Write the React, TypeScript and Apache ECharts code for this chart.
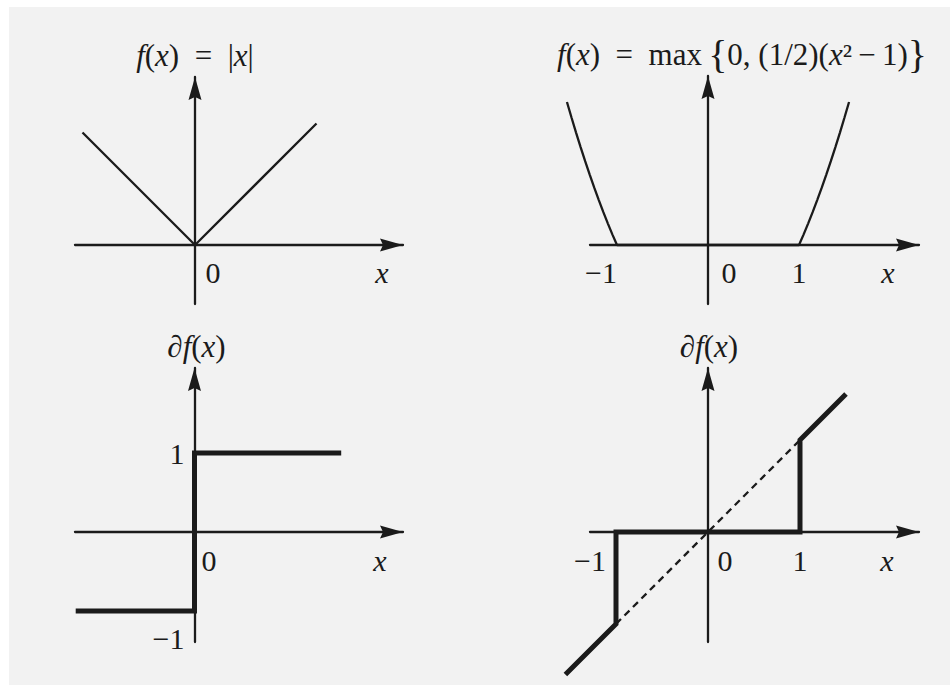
import React, { useEffect, useRef } from 'react';
import * as echarts from 'echarts';

const INK = '#1b1b1b';
const SERIF = '"Liberation Serif", "Times New Roman", "DejaVu Serif", serif';
const FS = 30;
const TS = 31;

// f(x) = |x|
const absX = [-1.25, 0, 1.35];
const absY = [1.25, 0, 1.35];

// f(x) = max{0, (1/2)(x^2 - 1)}
const hingeX = [-1.55, -1.5, -1.45, -1.4, -1.35, -1.3, -1.25, -1.2, -1.15, -1.1, -1.05, -1, 1, 1.05, 1.1, 1.15, 1.2, 1.25, 1.3, 1.35, 1.4, 1.45, 1.5, 1.55];
const hingeY = [0.701, 0.625, 0.551, 0.48, 0.411, 0.345, 0.281, 0.22, 0.161, 0.105, 0.051, 0, 0, 0.051, 0.105, 0.161, 0.22, 0.281, 0.345, 0.411, 0.48, 0.551, 0.625, 0.701];

// subdifferential of |x|
const signX = [-1.32, 0, 0, 1.63];
const signY = [-1, -1, 1, 1];

// subdifferential of the hinge function
const subX = [-1.55, -1, -1, 1, 1, 1.5];
const subY = [-1.55, -1, 0, 0, 1, 1.5];

// y = x guide
const diagX = [-1, 1];
const diagY = [-1, 1];

// tick labels
const absTicksX = [0];
const hingeTicksX = [-1, 0, 1];
const signTicksX = [0];
const signTicksY = [1, -1];
const subTicksX = [-1, 0, 1];

// pixel frame of each panel: origin, unit lengths, axis extents
const frames = [
  { ox: 195, oy: 245, ux: 90, uy: 90, left: 75, right: 403, top: 77, bottom: 304 },
  { ox: 708, oy: 245, ux: 91, uy: 204, left: 590, right: 919, top: 76, bottom: 304 },
  { ox: 194.5, oy: 532, ux: 90, uy: 79, left: 75, right: 403, top: 368, bottom: 642 },
  { ox: 708, oy: 532, ux: 92, uy: 92, left: 590, right: 919, top: 368, bottom: 642 },
];
// wider plotting areas (same scale) for curves that run past the axis ends
const plotFrames = [
  { ...frames[1], left: 540, top: 40 },
  { ...frames[3], left: 540, bottom: 684 },
];

const txt = { fontFamily: SERIF, fontSize: FS, color: INK };
const ital = { ...txt, fontStyle: 'italic' };

const ARROW = 'path://M6.5,0 L13,23 L6.5,20 L0,23 Z';
const ARROW_SIZE = [13, 23];

const zip = (xs: number[], ys: number[]) => xs.map((x, i) => [x, ys[i]]);

const tickText = (v: number) => (v === 0 ? '{z|0}' : v < 0 ? '{m|−1}' : '{o|1}');

type Frame = (typeof frames)[number];

const xRange = (f: Frame) => ({ min: (f.left - f.ox) / f.ux, max: (f.right - f.ox) / f.ux });
const yRange = (f: Frame) => ({ min: -(f.bottom - f.oy) / f.uy, max: (f.oy - f.top) / f.uy });

function axisLineStyle() {
  return {
    onZero: false,
    symbol: ['none', ARROW],
    symbolSize: ARROW_SIZE,
    symbolOffset: [0, -ARROW_SIZE[1] / 2],
    lineStyle: { color: INK, width: 2.3 },
  };
}

function xAxis(i: number, ticks: number[], rich: any, nameGap: number, drop: number) {
  const f = frames[i];
  return {
    type: 'value',
    gridIndex: i,
    position: 'bottom',
    offset: -(f.bottom - f.oy),
    ...xRange(f),
    axisLine: axisLineStyle(),
    axisTick: { show: false },
    splitLine: { show: false },
    axisLabel: {
      show: ticks.length > 0,
      customValues: ticks,
      formatter: tickText,
      margin: drop,
      verticalAlign: 'middle',
      ...txt,
      rich,
    },
    name: '{i|x}',
    nameLocation: 'end',
    nameGap,
    nameTextStyle: {
      ...txt,
      align: 'center',
      verticalAlign: 'middle',
      padding: [drop * 2, 0, 0, 0],
      rich: { i: ital },
    },
  };
}

function yAxis(i: number, ticks: number[], rich: any, title: string, shift: number, base: any) {
  const f = frames[i];
  return {
    type: 'value',
    gridIndex: i,
    position: 'left',
    offset: -(f.ox - f.left),
    ...yRange(f),
    axisLine: axisLineStyle(),
    axisTick: { show: false },
    splitLine: { show: false },
    axisLabel: {
      show: ticks.length > 0,
      customValues: ticks,
      formatter: tickText,
      margin: 10,
      ...txt,
      rich,
    },
    name: title,
    nameLocation: 'end',
    nameGap: 22,
    nameTextStyle: {
      ...base,
      align: 'center',
      verticalAlign: 'middle',
      padding: [0, 0, 0, shift * 2],
      rich: titleRich,
    },
  };
}

const n = { ...txt, fontSize: TS };
const titleRich = { i: { ...ital, fontSize: TS }, n };

const hidden = {
  axisLine: { show: false },
  axisTick: { show: false },
  axisLabel: { show: false },
  splitLine: { show: false },
};

const thin = { color: INK, width: 2.3 };
const thick = { color: INK, width: 5, cap: 'butt', join: 'miter' };

const lineSeries = (ax: number, xs: number[], ys: number[], lineStyle: any) => ({
  type: 'line',
  xAxisIndex: ax,
  yAxisIndex: ax,
  data: zip(xs, ys),
  showSymbol: false,
  symbol: 'none',
  silent: true,
  clip: false,
  lineStyle,
});

const option = {
  animation: false,
  backgroundColor: '#ffffff',
  graphic: [
    {
      type: 'rect',
      z: -100,
      silent: true,
      shape: { x: 9, y: 7, width: 941, height: 678 },
      style: { fill: '#f2f2f2' },
    },
  ],
  grid: [...frames, ...plotFrames].map((f) => ({
    left: f.left,
    top: f.top,
    width: f.right - f.left,
    height: f.bottom - f.top,
    containLabel: false,
  })),
  xAxis: [
    xAxis(0, absTicksX, { z: { ...txt, padding: [0, 0, 0, 36] } }, -21, 27),
    xAxis(1, hingeTicksX, { z: { ...txt, padding: [0, 0, 0, 42] }, m: { ...txt, padding: [0, 32, 0, 0] }, o: txt }, -31, 27),
    xAxis(2, signTicksX, { z: { ...txt, padding: [0, 0, 0, 29] } }, -23, 28),
    xAxis(3, subTicksX, { z: { ...txt, padding: [0, 0, 0, 34] }, m: { ...txt, padding: [0, 52, 0, 0] }, o: txt }, -32, 28),
    ...plotFrames.map((f, k) => ({ type: 'value', gridIndex: 4 + k, ...xRange(f), ...hidden })),
  ],
  yAxis: [
    yAxis(0, [], {}, '{i|f}{n|(}{i|x}{n|)\u2002=\u2002|}{i|x}{n||}', 0, n),
    yAxis(
      1,
      [],
      {},
      '{i|f}{n|(}{i|x}{n|)\u2002=\u2002max\u2009}{{n|0, (1/2)(}{i|x}{n|²\u2009−\u20091)}}',
      34,
      { ...txt, fontSize: 40 }
    ),
    yAxis(2, signTicksY, { o: txt, m: { ...txt, padding: [54, 0, 0, 0] } }, '{n|∂}{i|f}{n|(}{i|x}{n|)}', 2, n),
    yAxis(3, [], {}, '{n|∂}{i|f}{n|(}{i|x}{n|)}', 1, n),
    ...plotFrames.map((f, k) => ({ type: 'value', gridIndex: 4 + k, ...yRange(f), ...hidden })),
  ],
  series: [
    lineSeries(0, absX, absY, thin),
    lineSeries(4, hingeX, hingeY, thin),
    lineSeries(2, signX, signY, thick),
    lineSeries(5, diagX, diagY, { color: INK, width: 2.3, type: [7, 5], cap: 'butt' }),
    lineSeries(5, subX, subY, thick),
  ],
};

export default function App() {
  const ref = useRef<HTMLDivElement>(null);
  useEffect(() => {
    const chart = echarts.init(ref.current!, null, { renderer: 'svg' });
    chart.setOption(option as any);
    return () => chart.dispose();
  }, []);
  return (
    <div
      ref={ref}
      style={{ position: 'absolute', left: 0, top: 0, width: 950, height: 685 }}
    />
  );
}
